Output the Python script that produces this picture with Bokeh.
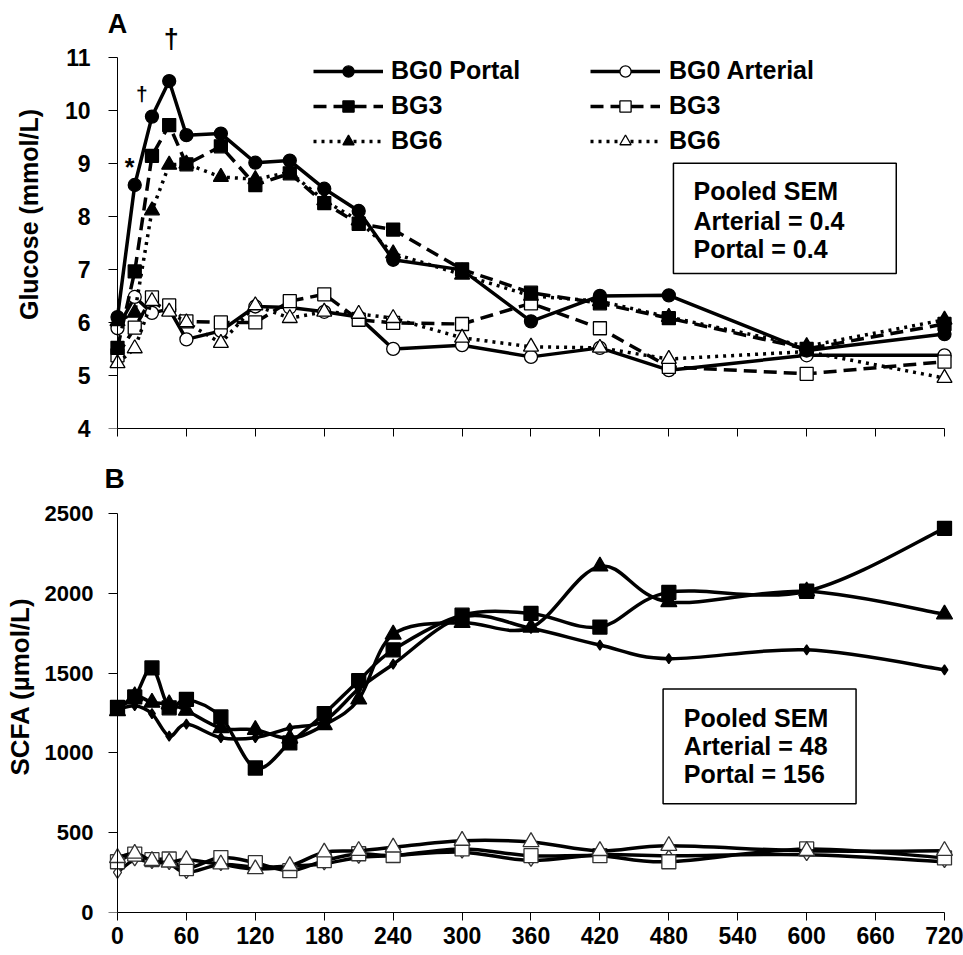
import numpy as np
from bokeh.plotting import figure
from bokeh.models import (Range1d, FixedTicker, Legend, LegendItem, BoxAnnotation, Label,
                          LinearAxis)
from bokeh.layouts import column
from bokeh.embed import file_html
from bokeh.resources import INLINE

FONT = "Liberation Sans"

# ---------------- data ----------------
time_min = [0, 15, 30, 45, 60, 90, 120, 150, 180, 210, 240, 300, 360, 420, 480, 600, 720]
x_ticks = list(range(0, 721, 60))
glc_ticks = [4, 5, 6, 7, 8, 9, 10, 11]
scfa_ticks = [0, 500, 1000, 1500, 2000, 2500]

# Panel A: glucose (mmol/L)
glc_bg0_portal = [6.10, 8.59, 9.88, 10.55, 9.53, 9.56, 9.01, 9.05, 8.52, 8.10, 7.18, 6.99, 6.02, 6.50, 6.51, 5.47, 5.78]
glc_bg3_portal = [5.52, 6.96, 9.14, 9.72, 8.98, 9.32, 8.59, 8.81, 8.25, 7.86, 7.75, 7.00, 6.56, 6.36, 6.08, 5.50, 5.97]
glc_bg6_portal = [6.02, 6.18, 8.11, 8.97, 8.99, 8.74, 8.70, 8.83, 8.30, 7.92, 7.30, 6.90, 6.50, 6.40, 6.10, 5.55, 6.05]
glc_bg0_arterial = [5.89, 6.48, 6.18, 6.25, 5.68, 5.84, 6.30, 6.28, 6.20, 6.10, 5.50, 5.57, 5.35, 5.52, 5.10, 5.38, 5.38]
glc_bg3_arterial = [5.38, 5.90, 6.47, 6.32, 6.02, 6.00, 6.00, 6.40, 6.53, 6.05, 5.99, 5.97, 6.36, 5.89, 5.16, 5.03, 5.26]
glc_bg6_arterial = [5.23, 5.51, 6.40, 6.20, 6.00, 5.61, 6.32, 6.08, 6.20, 6.16, 6.08, 5.71, 5.54, 5.52, 5.31, 5.45, 4.95]

# Panel B: SCFA (umol/L)
scfa_bg0_portal = [1270, 1295, 1245, 1105, 1180, 1095, 1095, 1155, 1200, 1400, 1555, 1850, 1780, 1675, 1590, 1645, 1520]
scfa_bg3_portal = [1285, 1350, 1532, 1282, 1335, 1225, 905, 1062, 1245, 1452, 1645, 1862, 1873, 1788, 2005, 2012, 2406]
scfa_bg6_portal = [1262, 1355, 1315, 1305, 1265, 1155, 1145, 1090, 1175, 1335, 1742, 1815, 1785, 2168, 1945, 2012, 1868]
scfa_bg0_arterial = [252, 330, 312, 306, 250, 300, 285, 290, 305, 345, 356, 378, 326, 362, 355, 362, 318]
scfa_bg3_arterial = [318, 366, 331, 335, 275, 344, 312, 262, 325, 368, 357, 398, 356, 356, 318, 398, 342]
scfa_bg6_arterial = [342, 369, 324, 314, 330, 302, 272, 292, 377, 387, 408, 450, 442, 386, 418, 386, 387]

legend_portal = ["BG0 Portal", "BG3", "BG6"]
legend_arterial = ["BG0 Arterial", "BG3", "BG6"]
sem_glc = ["Pooled SEM", "Arterial = 0.4", "Portal = 0.4"]
sem_scfa = ["Pooled SEM", "Arterial = 48", "Portal = 156"]

# ---------------- layout constants ----------------
FRAME_LEFT = 104
X_RANGE = (-11.318, 733.93)   # 0 -> px 117, 720 -> px 944, padding so edge markers are not clipped


def base_style(p):
    p.xgrid.visible = False
    p.ygrid.visible = False
    p.outline_line_color = None


def style_x(p, show_labels):
    xa = p.xaxis[0]
    xa.bounds = (0, 720)
    xa.ticker = FixedTicker(ticks=x_ticks)
    xa.minor_tick_line_color = None
    xa.major_tick_in = 0
    xa.major_tick_out = 8
    xa.axis_line_color = "black"
    xa.major_tick_line_color = "black"
    if show_labels:
        xa.major_label_text_font = FONT
        xa.major_label_text_font_style = "bold"
        xa.major_label_text_font_size = "23px"
        xa.major_label_text_color = "black"
        xa.major_label_standoff = 6
    else:
        xa.major_label_overrides = {t: "" for t in x_ticks}
        xa.major_label_standoff = 0


def style_y(p, ticks, bounds, tick_size, tick_standoff, label, label_size, label_bounds, label_standoff):
    # default left axis: tick labels only (line/ticks drawn by the fixed axis at x=0)
    ya = p.yaxis[0]
    ya.bounds = bounds
    ya.ticker = FixedTicker(ticks=ticks)
    ya.minor_tick_line_color = None
    ya.major_tick_line_color = None
    ya.axis_line_color = None
    ya.major_tick_in = 0
    ya.major_tick_out = 0
    ya.major_label_text_font = FONT
    ya.major_label_text_font_style = "bold"
    ya.major_label_text_font_size = tick_size
    ya.major_label_text_color = "black"
    ya.major_label_standoff = tick_standoff
    # outer left axis: only the axis title
    lab = LinearAxis(ticker=FixedTicker(ticks=[]), bounds=label_bounds,
                     axis_line_color=None, major_tick_line_color=None, minor_tick_line_color=None,
                     major_tick_in=0, major_tick_out=0, major_label_standoff=0,
                     axis_label=label, axis_label_text_font=FONT, axis_label_text_font_size=label_size,
                     axis_label_text_font_style="bold", axis_label_text_color="black",
                     axis_label_standoff=label_standoff)
    p.add_layout(lab, "left")
    # visible axis line + ticks, at x = 0
    rule = LinearAxis(fixed_location=0, ticker=FixedTicker(ticks=ticks), bounds=bounds,
                      axis_line_color="black", major_tick_line_color="black",
                      minor_tick_line_color=None, major_tick_in=9, major_tick_out=0,
                      major_label_overrides={t: "" for t in ticks}, major_label_standoff=0)
    p.add_layout(rule, "right")


def bezier_parts(xs, ys):
    xs = np.asarray(xs, float)
    ys = np.asarray(ys, float)
    n = len(xs)
    out = {k: [] for k in ("x0", "y0", "x1", "y1", "cx0", "cy0", "cx1", "cy1")}
    for i in range(n - 1):
        a = i - 1 if i > 0 else i
        d = i + 2 if i + 2 < n else i + 1
        out["x0"].append(xs[i]); out["y0"].append(ys[i])
        out["x1"].append(xs[i + 1]); out["y1"].append(ys[i + 1])
        out["cx0"].append(xs[i] + (xs[i + 1] - xs[a]) / 6.0)
        out["cy0"].append(ys[i] + (ys[i + 1] - ys[a]) / 6.0)
        out["cx1"].append(xs[i + 1] - (xs[d] - xs[i]) / 6.0)
        out["cy1"].append(ys[i + 1] - (ys[d] - ys[i]) / 6.0)
    return out


def text_label(p, x, y, txt, size, align="left", xo=0, yo=0):
    p.add_layout(Label(x=x, y=y, text=txt, text_font=FONT, text_font_size=size,
                       text_font_style="bold", text_color="black", text_align=align,
                       text_baseline="middle", x_offset=xo, y_offset=yo))


# ---------------- Panel A ----------------
pA = figure(width=963, height=460, x_range=Range1d(*X_RANGE), y_range=Range1d(4, 12.068),
            output_backend="svg", toolbar_location=None,
            min_border_left=FRAME_LEFT, min_border_right=3, min_border_top=0, min_border_bottom=32)
base_style(pA)
style_x(pA, show_labels=False)
style_y(pA, glc_ticks, (4, 11), "23px", 14, "Glucose (mmol/L)", "25px", (4, 10.42), 19)

LW = 3.5
series_A = [
    (glc_bg0_arterial, None, "circle", 13, "white"),
    (glc_bg3_arterial, "13 7", "square", 13, "white"),
    (glc_bg6_arterial, "3 5", "triangle", 15, "white"),
    (glc_bg0_portal, None, "circle", 13, "black"),
    (glc_bg3_portal, "13 7", "square", 13, "black"),
    (glc_bg6_portal, "3 5", "triangle", 15, "black"),
]
rends = []
for vals, dash, mk, sz, fill in series_A:
    kw = {} if dash is None else {"line_dash": dash}
    rl = pA.line(time_min, vals, line_color="black", line_width=LW, **kw)
    rm = pA.scatter(time_min, vals, marker=mk, size=sz, fill_color=fill,
                    line_color="black", line_width=1.3)
    rends.append((rl, rm))


def make_legend(labels, pairs, loc, standoff):
    items = [LegendItem(label=lab, renderers=[rl, rm]) for lab, (rl, rm) in zip(labels, pairs)]
    return Legend(items=items, location=loc, orientation="vertical",
                  glyph_width=70, glyph_height=28, label_height=28, spacing=6,
                  label_standoff=standoff, padding=0, margin=0,
                  border_line_color=None, background_fill_alpha=0,
                  label_text_font=FONT, label_text_font_size="25px",
                  label_text_font_style="bold", label_text_color="black")


pA.add_layout(make_legend(legend_portal, rends[3:], (209, 273), 8))
pA.add_layout(make_legend(legend_arterial, rends[:3], (486, 273), 9))

pA.add_layout(BoxAnnotation(left=484, right=678, bottom=6.92, top=9.0, fill_color="white",
                            fill_alpha=1.0, line_color="black", line_alpha=1.0, line_width=1.5))
for txt, yv in zip(sem_glc, [8.47, 7.92, 7.39]):
    text_label(pA, 501.5, yv, txt, "25px")

# significance marks (anchored to BG0 Portal points)
text_label(pA, 30, glc_bg0_portal[2], "\u2020", "21px", align="center", xo=-10, yo=23)
text_label(pA, 45, glc_bg0_portal[3], "\u2020", "27px", align="center", xo=2, yo=42)
text_label(pA, 15, glc_bg0_portal[1], "*", "25px", align="center", xo=-5, yo=18)

text_label(pA, 0, 11.63, "A", "27px", align="center", xo=0)

# ---------------- Panel B ----------------
pB = figure(width=963, height=495, x_range=Range1d(*X_RANGE), y_range=Range1d(0, 2831),
            output_backend="svg", toolbar_location=None,
            min_border_left=FRAME_LEFT, min_border_right=3, min_border_top=0, min_border_bottom=43)
base_style(pB)
style_x(pB, show_labels=True)
style_y(pB, scfa_ticks, (0, 2500), "22px", 11, "SCFA (\u00b5mol/L)", "26px", (0, 2718), 7)

series_B = [
    (scfa_bg0_arterial, "diamond", 12, "white", "#333333"),
    (scfa_bg3_arterial, "square", 14, "white", "#333333"),
    (scfa_bg6_arterial, "triangle", 16, "white", "#333333"),
    (scfa_bg0_portal, "diamond", 10, "black", "black"),
    (scfa_bg3_portal, "square", 14, "black", "black"),
    (scfa_bg6_portal, "triangle", 16, "black", "black"),
]
for vals, mk, sz, fill, edge in series_B:
    bz = bezier_parts(time_min, vals)
    pB.bezier(line_color="black", line_width=LW, **bz)
    pB.scatter(time_min, vals, marker=mk, size=sz, fill_color=fill, line_color=edge, line_width=1.3)

pB.add_layout(BoxAnnotation(left=475, right=643, bottom=681, top=1400, fill_color="white",
                            fill_alpha=1.0, line_color="black", line_alpha=1.0, line_width=1.5))
for txt, yv in zip(sem_scfa, [1219, 1044, 869]):
    text_label(pB, 493, yv, txt, "25px")

text_label(pB, 0, 2718, "B", "28px", align="center", xo=-3)

layout = column(pA, pB, spacing=0)
open("out.html", "w").write(file_html(layout, INLINE))
